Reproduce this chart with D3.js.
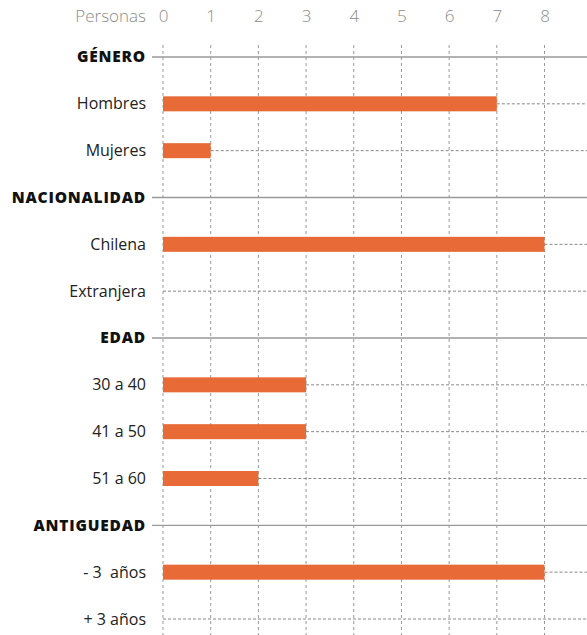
<!DOCTYPE html>
<html>
<head>
<meta charset="utf-8">
<script src="https://cdn.jsdelivr.net/npm/d3@7"></script>
<style>
  body { margin: 0; background: #fff; }
  svg { display: block; font-family: "Open Sans", sans-serif; }
</style>
</head>
<body>
<div id="chart"></div>
<script>
// rows in order, top to bottom
const rowLabels = ["GÉNERO", "Hombres", "Mujeres", "NACIONALIDAD", "Chilena", "Extranjera",
  "EDAD", "30 a 40", "41 a 50", "51 a 60", "ANTIGUEDAD", "- 3  años", "+ 3 años"];
const rowIsHeader = [true, false, false, true, false, false, true, false, false, false, true, false, false];
const rowValues = [null, 7, 1, null, 8, 0, null, 3, 3, 2, null, 8, 0];
const xTicks = [0, 1, 2, 3, 4, 5, 6, 7, 8];
const axisTitle = "Personas";

const W = 587, H = 635;
const svg = d3.select("#chart").append("svg").attr("width", W).attr("height", H);

const x = d3.scaleLinear().domain([0, 8]).range([163, 544.5]);
const y = d3.scalePoint().domain(d3.range(rowLabels.length)).range([57, 619]);

// vertical dashed grid
svg.append("g").selectAll("line").data(xTicks).enter().append("line")
  .attr("x1", d => x(d)).attr("x2", d => x(d))
  .attr("y1", 45).attr("y2", H)
  .attr("stroke", "#999").attr("stroke-width", 1).attr("stroke-dasharray", "3,3");

// tick labels
const axisG = svg.append("g").attr("transform", "translate(0,17)")
  .call(d3.axisTop(x).tickValues(xTicks).tickSize(0).tickPadding(0));
axisG.select(".domain").remove();
axisG.selectAll("text").attr("font-size", 17).attr("fill", "#8c8c8c")
  .attr("font-family", "Open Sans, sans-serif").attr("font-weight", 300).attr("dy", "0.32em");

svg.append("text").attr("x", 146).attr("y", 17).attr("dy", "0.32em")
  .attr("text-anchor", "end").attr("font-size", 17).attr("font-weight", 300)
  .attr("fill", "#8c8c8c").text(axisTitle);

const rows = svg.append("g").selectAll("g").data(rowLabels).enter().append("g");

// header lines
rows.filter((d, i) => rowIsHeader[i]).append("line")
  .attr("x1", 152).attr("x2", W)
  .attr("y1", d => y(rowLabels.indexOf(d))).attr("y2", d => y(rowLabels.indexOf(d)))
  .attr("stroke", "#999").attr("stroke-width", 1.3);

// category dotted lines from bar end
rows.filter((d, i) => !rowIsHeader[i]).append("line")
  .attr("x1", d => x(rowValues[rowLabels.indexOf(d)])).attr("x2", W)
  .attr("y1", d => y(rowLabels.indexOf(d))).attr("y2", d => y(rowLabels.indexOf(d)))
  .attr("stroke", "#888").attr("stroke-width", 1).attr("stroke-dasharray", "3,2");

// bars
rows.filter((d, i) => !rowIsHeader[i] && rowValues[i] > 0).append("rect")
  .attr("x", x(0))
  .attr("y", d => y(rowLabels.indexOf(d)) - 7.5)
  .attr("width", d => x(rowValues[rowLabels.indexOf(d)]) - x(0))
  .attr("height", 15)
  .attr("fill", "#E86A37");

// labels
rows.append("text")
  .attr("x", 146)
  .attr("y", d => y(rowLabels.indexOf(d)))
  .attr("dy", "0.35em")
  .attr("text-anchor", "end")
  .attr("font-size", (d, i) => rowIsHeader[i] ? 15.5 : 16)
  .attr("font-weight", (d, i) => rowIsHeader[i] ? 800 : 400)
  .attr("letter-spacing", (d, i) => rowIsHeader[i] ? "0.8px" : null)
  .attr("fill", (d, i) => rowIsHeader[i] ? "#111" : "#222")
  .style("white-space", "pre")
  .text(d => d);
</script>
</body>
</html>
